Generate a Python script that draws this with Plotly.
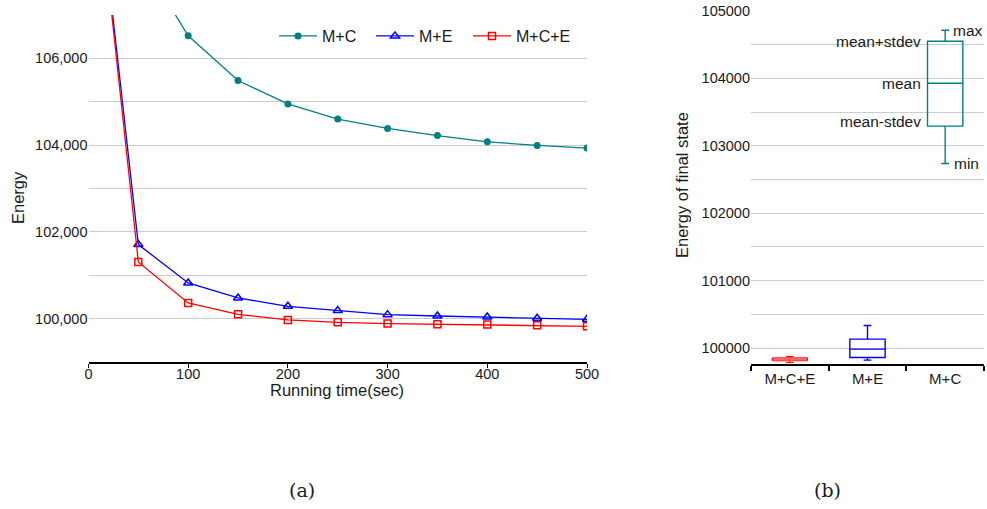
import plotly.graph_objects as go

# ---- data: panel (a) ----
time_sec = [0, 50, 100, 150, 200, 250, 300, 350, 400, 450, 500]
energy_mc = [112000, 108400, 106520, 105490, 104950, 104600, 104385, 104220, 104077, 103992, 103931]
energy_me = [112000, 101708, 100823, 100476, 100284, 100185, 100092, 100060, 100037, 100007, 99984]
energy_mce = [112000, 101308, 100362, 100100, 99969, 99915, 99885, 99869, 99862, 99846, 99823]

# ---- data: panel (b) ----
box_names = ["M+C+E", "M+E", "M+C"]
box_min = [99787, 99822, 102738]
box_q1 = [99812, 99861, 103292]
box_mean = [99837, 99985, 103929]
box_q3 = [99856, 100133, 104551]
box_max = [99876, 100335, 104714]

C_MC = "#008080"
C_ME = "#0000ff"
C_MCE = "#ff0000"
box_colors = [C_MCE, C_ME, C_MC]
box_widths = [1.0, 1.4, 1.4]

FONT = "Liberation Sans, Arial, sans-serif"
GRID = "#cccccc"
TXT = "#1a1a1a"

fig = go.Figure()

fig.add_trace(go.Scatter(x=time_sec, y=energy_mc, name="M+C", mode="lines+markers",
                         line=dict(color=C_MC, width=1.3),
                         marker=dict(symbol="circle", size=7, color=C_MC),
                         xaxis="x", yaxis="y", legend="legend"))
fig.add_trace(go.Scatter(x=time_sec, y=energy_me, name="M+E", mode="lines+markers",
                         line=dict(color=C_ME, width=1.3),
                         marker=dict(symbol="triangle-up-open", size=8, color=C_ME, line=dict(width=1.5)),
                         xaxis="x", yaxis="y", legend="legend2"))
fig.add_trace(go.Scatter(x=time_sec, y=energy_mce, name="M+C+E", mode="lines+markers",
                         line=dict(color=C_MCE, width=1.3),
                         marker=dict(symbol="square-open", size=7, color=C_MCE, line=dict(width=1.5)),
                         xaxis="x", yaxis="y", legend="legend3"))

for i, nm in enumerate(box_names):
    fig.add_trace(go.Box(x=[nm], q1=[box_q1[i]], median=[box_mean[i]], q3=[box_q3[i]],
                         lowerfence=[box_min[i]], upperfence=[box_max[i]],
                         name=nm, showlegend=False,
                         line=dict(color=box_colors[i], width=box_widths[i]),
                         fillcolor="rgba(0,0,0,0)", whiskerwidth=0.22,
                         xaxis="x2", yaxis="y2", hoverinfo="skip"))

ann = []
mc = 2
AF = dict(size=15.5, color=TXT)
ann.append(dict(x=box_names[mc], y=box_max[mc], xref="x2", yref="y2", text="max",
                xanchor="left", yanchor="middle", xshift=6, showarrow=False, font=AF))
ann.append(dict(x=box_names[mc], y=box_q3[mc], xref="x2", yref="y2", text="mean+stdev",
                xanchor="right", yanchor="middle", xshift=-22, showarrow=False, font=AF))
ann.append(dict(x=box_names[mc], y=box_mean[mc], xref="x2", yref="y2", text="mean",
                xanchor="right", yanchor="middle", xshift=-22, showarrow=False, font=AF))
ann.append(dict(x=box_names[mc], y=box_q1[mc], xref="x2", yref="y2", text="mean-stdev",
                xanchor="right", yanchor="middle", xshift=-22, yshift=5, showarrow=False, font=AF))
ann.append(dict(x=box_names[mc], y=box_min[mc], xref="x2", yref="y2", text="min",
                xanchor="left", yanchor="middle", xshift=7, showarrow=False, font=AF))

# axis titles
TF = dict(size=16.5, color=TXT)
ann.append(dict(x=337/987, y=1-390/509, xref="paper", yref="paper", text="Running time(sec)",
                xanchor="center", yanchor="middle", showarrow=False, font=TF))
ann.append(dict(x=18/987, y=1-198/509, xref="paper", yref="paper", text="Energy",
                xanchor="center", yanchor="middle", textangle=-90, showarrow=False, font=TF))
ann.append(dict(x=682/987, y=1-185/509, xref="paper", yref="paper", text="Energy of final state",
                xanchor="center", yanchor="middle", textangle=-90, showarrow=False, font=TF))
# captions
CF = dict(size=19, color=TXT, family="DejaVu Serif, Liberation Serif, serif")
ann.append(dict(x=302/987, y=1-490/509, xref="paper", yref="paper", text="(a)",
                xanchor="center", yanchor="middle", showarrow=False, font=CF))
ann.append(dict(x=827/987, y=1-490/509, xref="paper", yref="paper", text="(b)",
                xanchor="center", yanchor="middle", showarrow=False, font=CF))

LEG = dict(orientation="h", xanchor="left", yanchor="middle", y=1-36/509,
           font=dict(size=16, color=TXT), bgcolor="rgba(255,255,255,0)", itemwidth=38)

fig.update_layout(
    width=987, height=509,
    margin=dict(l=0, r=0, t=0, b=0, pad=0, autoexpand=False),
    paper_bgcolor="white", plot_bgcolor="white",
    font=dict(family=FONT, size=14.5, color=TXT),
    boxmode="overlay", boxgap=0.35,
    showlegend=True,
    legend=dict(LEG, x=274/987),
    legend2=dict(LEG, x=371/987),
    legend3=dict(LEG, x=468/987),
    annotations=ann,
    xaxis=dict(domain=[88.5/987, 587/987], range=[0, 500], dtick=100, tick0=0,
               showgrid=False, zeroline=False, showline=True, linecolor="black", linewidth=2,
               ticks="outside", ticklen=4, tickwidth=1, tickcolor="black", automargin=False,
               ticklabelstandoff=-6,
               anchor="y", tickfont=dict(size=14.5, color=TXT)),
    yaxis=dict(domain=[1-362/509, 1-15/509], range=[99000, 107000],
               dtick=2000, tick0=100000, tickformat=",",
               showgrid=True, gridcolor=GRID, gridwidth=1,
               minor=dict(dtick=1000, tick0=99000, showgrid=True, gridcolor=GRID, gridwidth=1),
               zeroline=False, showline=False, ticks="", anchor="x", automargin=False,
               tickfont=dict(size=14.5, color=TXT)),
    xaxis2=dict(domain=[751/987, 984/987], type="category", categoryorder="array",
                categoryarray=box_names, range=[-0.5, 2.5], tickson="boundaries",
                showgrid=False, zeroline=False, showline=True, linecolor="black", linewidth=2,
                ticks="outside", ticklen=5, tickwidth=1.5, tickcolor="black", automargin=False,
                anchor="y2", tickfont=dict(size=15, color=TXT)),
    yaxis2=dict(domain=[1-364.3/509, 1-11/509], range=[99760, 105000],
                dtick=1000, tick0=100000, tickformat="d",
                showgrid=True, gridcolor=GRID, gridwidth=1,
                minor=dict(dtick=500, tick0=100000, showgrid=True, gridcolor=GRID, gridwidth=1),
                zeroline=False, showline=False, ticks="", anchor="x2", automargin=False,
                tickfont=dict(size=14.5, color=TXT)),
)

fig.write_html("out.html")
